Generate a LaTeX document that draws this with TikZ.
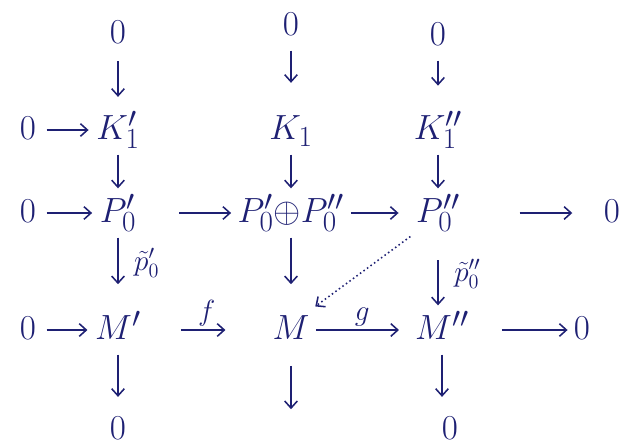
\documentclass[tikz,border=0pt]{standalone}
\usetikzlibrary{arrows.meta}
\definecolor{ink}{RGB}{30,32,115}
\begin{document}
\begin{tikzpicture}[x=0.025cm,y=-0.025cm,ink,line width=1.1pt,
	every node/.style={font=\fontsize{28}{34}\selectfont,inner sep=2pt,text height=20pt,text depth=6pt},
	arr/.style={-{Straight Barb[length=5pt,width=9pt]},shorten >=2pt,shorten <=2pt},
	lbl/.style={font=\fontsize{20}{24}\selectfont,text height=12pt,text depth=3pt}]
	\useasboundingbox (0,0) rectangle (629,447);
	% left column
	\node (o1t) at (118,34) {$0$};
	\node (k1p) at (118,130) {$K_1'$};
	\node (p0p) at (118,213) {$P_0'$};
	\node (mp) at (118,330) {$M'$};
	\node (o1b) at (118,430) {$0$};
	% middle column
	\node (o2t) at (291,26) {$0$};
	\node (k1) at (291,130) {$K_1$};
	\node (p0s) at (291,213) {$P_0'{\oplus}P_0''$};
	\node (m) at (291,330) {$M$};
	\coordinate (mend) at (291,412);
	% right column
	\node (o3t) at (438,36) {$0$};
	\node (k1pp) at (438,130) {$K_1''$};
	\node (p0pp) at (438,213) {$P_0''$};
	\node (mpp) at (442,330) {$M''$};
	\node (o3b) at (450,430) {$0$};
	% zeros at the ends of the rows
	\node (lz1) at (28,130) {$0$};
	\node (lz2) at (28,213) {$0$};
	\node (lz3) at (28,330) {$0$};
	\node (rz2) at (612,213) {$0$};
	\node (rz3) at (582,330) {$0$};
	% vertical arrows
	\draw[arr,shorten <=4pt,shorten >=8pt] (o1t) -- (k1p);
	\draw[arr] (k1p) -- (p0p);
	\draw[arr,shorten >=17pt] (p0p) -- node[lbl,right=9pt,pos=0.4]{$\tilde{p}_0'$} (mp);
	\draw[arr,shorten >=8pt] (mp) -- (mp |- o1b.north);
	\draw[arr,shorten >=18pt] (o2t) -- (k1);
	\draw[arr] (k1) -- (p0s);
	\draw[arr,shorten >=17pt] (p0s) -- (m);
	\draw[arr,shorten <=10pt] (m) -- (mend);
	\draw[arr,shorten >=16pt] (o3t) -- (k1pp);
	\draw[arr] (k1pp) -- (p0pp);
	\draw[arr,shorten <=18pt] (p0pp) -- node[lbl,right=9pt,pos=0.55]{$\tilde{p}_0''$} (p0pp |- mpp.north);
	\draw[arr,shorten >=8pt] (mpp) -- (mpp |- o3b.north);
	% horizontal arrows
	\draw[arr,shorten <=5pt,shorten >=3pt] (lz1) -- (k1p);
	\draw[arr,shorten <=5pt,shorten >=3pt] (lz2) -- (p0p);
	\draw[arr,shorten <=28pt] (p0p) -- (p0s);
	\draw[arr,shorten >=10pt] (p0s) -- (p0pp);
	\draw[arr,shorten <=40pt,shorten >=20pt] (p0pp) -- (rz2);
	\draw[arr,shorten <=5pt,shorten >=3pt] (lz3) -- (mp);
	\draw[arr,shorten <=26pt,shorten >=31pt] (mp) -- node[lbl,above=1pt]{$f$} (m);
	\draw[arr,shorten >=9pt] (m) -- node[lbl,above=1pt]{$g$} (mpp);
	\draw[arr,shorten <=21pt] (mpp) -- (rz3);
	% dotted lift
	\draw[arr,dotted] (p0pp.south west) -- (m.north east);
\end{tikzpicture}
\end{document}
